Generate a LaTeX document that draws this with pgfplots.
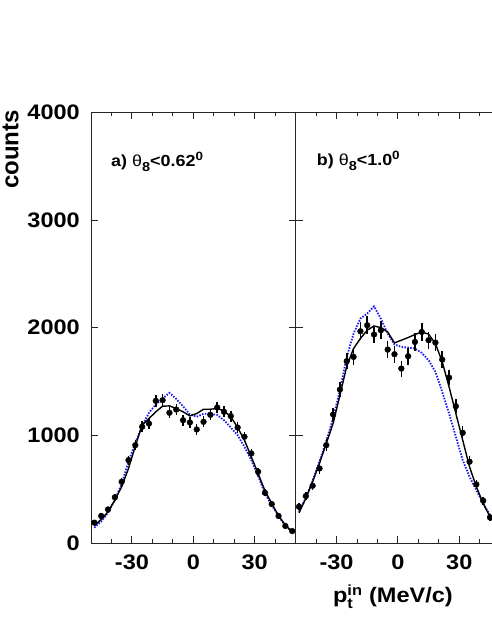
\documentclass[border=0pt]{standalone}
\usepackage{fontspec}
\usepackage{amsmath}
\setmainfont{Liberation Sans}
\newfontfamily\lab[FakeStretch=1.12]{Liberation Sans}
\usepackage{pgfplots}
\usepackage{pgfplotstable}
\pgfplotsset{compat=1.18}

% x: bin centre, y: counts, e: error, b: black curve, d: blue dotted curve
\pgfplotstableread{
x y e b d
-48.33 189 21 160 142
-45.00 251 24 220 200
-41.67 312 26 290 280
-38.33 424 31 400 400
-35.00 569 36 523 550
-31.67 770 42 693 755
-28.33 909 45 900 930
-25.00 1080 49 1095 1090
-21.67 1110 50 1157 1210
-18.33 1321 55 1219 1287
-15.00 1327 55 1271 1343
-11.67 1210 52 1274 1395
-8.33 1240 53 1250 1339
-5.00 1141 51 1219 1270
-1.67 1120 50 1181 1194
1.67 1055 49 1203 1173
5.00 1126 50 1243 1200
8.33 1191 52 1243 1200
11.67 1259 53 1250 1190
15.00 1219 52 1228 1141
18.33 1179 52 1173 1073
21.67 1073 49 1073 1002
25.00 987 47 956 894
28.33 832 43 801 770
31.67 662 39 646 622
35.00 467 32 486 460
38.33 362 29 368 350
41.67 251 24 253 250
45.00 158 19 167 160
48.33 111 16 105 100
}\panelA

\pgfplotstableread{
x y e b d
-48.33 337 34 281 290
-45.00 436 39 415 420
-41.67 532 43 569 580
-38.33 693 49 740 760
-35.00 909 56 925 950
-31.67 1194 64 1111 1157
-28.33 1426 70 1373 1420
-25.00 1689 76 1643 1729
-21.67 1729 77 1807 1946
-18.33 1967 82 1900 2085
-15.00 2023 83 1977 2132
-11.67 1937 81 2017 2199
-8.33 1977 82 2001 2085
-5.00 1797 78 1961 1946
-1.67 1754 77 1859 1844
1.67 1621 74 1884 1822
5.00 1735 77 1909 1815
8.33 1868 80 1937 1807
11.67 1961 82 1961 1766
15.00 1884 80 1940 1698
18.33 1862 80 1853 1590
21.67 1704 76 1683 1404
25.00 1537 73 1451 1203
28.33 1271 66 1203 987
31.67 1024 59 956 770
35.00 755 51 708 615
38.33 544 43 523 492
41.67 393 37 368 368
45.00 238 29 244 260
48.33 150 22 150 150
}\panelB

\definecolor{mcblue}{rgb}{0.1,0.1,0.95}

\pgfplotsset{
  panel/.style={
    scale only axis, width=204.6pt, height=430.5pt,
    anchor=south west,
    xmin=-50, xmax=50, ymin=0, ymax=4000,
    xtick={-30,0,30}, xticklabels={-30,0,30},
    minor xtick={-50,-40,-20,-10,10,20,40,50},
    ytick={0,1000,2000,3000,4000},
    tick align=inside,
    major tick length=7pt, minor tick length=4pt,
    axis line style={line width=0.9pt, black!85},
    every tick/.style={line width=0.9pt, black!85},
    tick label style={font=\lab\bfseries\fontsize{21}{21}\selectfont, inner sep=0pt},
    xticklabel style={yshift=-12pt},
    yticklabel style={xshift=-11pt},
  },
  blk/.style={black, line width=1.4pt, no marks, sharp plot},
  blu/.style={mcblue, line width=1.8pt, dash pattern=on 1.5pt off 1.4pt, no marks, sharp plot},
  pts/.style={black, only marks, mark=*, mark size=2.9pt,
    error bars/.cd, y dir=both, y explicit,
    error bar style={line width=1.5pt}, error mark=none},
}

\begin{document}
\begin{tikzpicture}
\useasboundingbox (0,0) rectangle (491pt,635pt);

\begin{axis}[panel, at={(91pt,92pt)},
  yticklabels={0,1000,2000,3000,4000}]
\addplot[blu] table[x=x, y=d] {\panelA};
\addplot[blk] table[x=x, y=b] {\panelA};
\addplot[pts] table[x=x, y=y, y error=e] {\panelA};
\end{axis}

\begin{axis}[panel, at={(295.6pt,92pt)}, yticklabels={}]
\addplot[blu] table[x=x, y=d] {\panelB};
\addplot[blk] table[x=x, y=b] {\panelB};
\addplot[pts] table[x=x, y=y, y error=e] {\panelB};
\end{axis}

\node[anchor=base west, inner sep=0pt] at (111pt,468.3pt)
  {\lab\bfseries\fontsize{16}{16}\selectfont a) {\mdseries θ}\raisebox{-5pt}{\fontsize{13}{13}\selectfont 8}<0.62\raisebox{6.5pt}{\fontsize{12}{12}\selectfont 0}};
\node[anchor=base west, inner sep=0pt] at (316.7pt,469pt)
  {\lab\bfseries\fontsize{16}{16}\selectfont b) {\mdseries θ}\raisebox{-5pt}{\fontsize{13}{13}\selectfont 8}<1.0\raisebox{6.5pt}{\fontsize{12}{12}\selectfont 0}};

\node[rotate=90, anchor=base east, inner sep=0pt] at (18.3pt,525pt)
  {\bfseries\fontsize{24}{24}\selectfont counts};

\node[anchor=base east, inner sep=0pt] at (453pt,32pt)
  {\lab\bfseries\fontsize{21}{21}\selectfont p$_{\text{t}}^{\text{in}}$\ (MeV/c)};
\end{tikzpicture}
\end{document}
